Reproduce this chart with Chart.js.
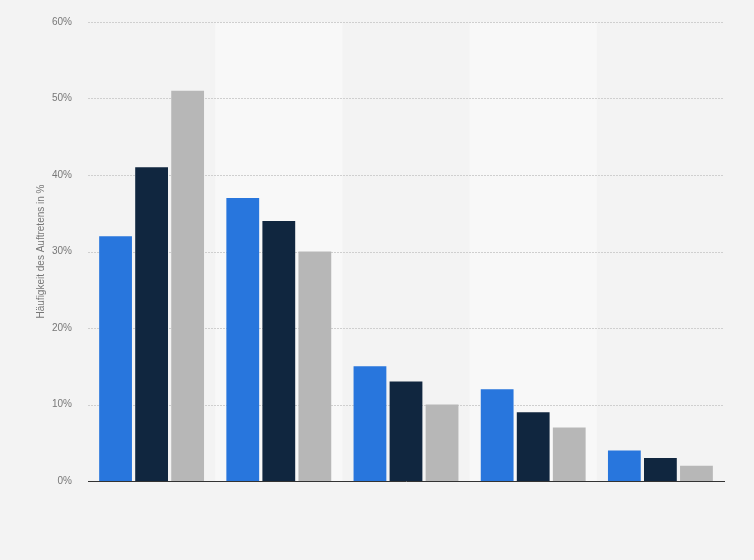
<!DOCTYPE html>
<html>
<head>
<meta charset="utf-8">
<script src="https://cdn.jsdelivr.net/npm/chart.js@4"></script>
<style>
  html, body { margin: 0; padding: 0; background: #f3f3f3; }
  #wrap { width: 754px; height: 560px; }
</style>
</head>
<body>
<div id="wrap"><canvas id="chart" width="754" height="560"></canvas></div>
<script>
// Kategorien (keine Beschriftung sichtbar)
const categories = ['', '', '', '', ''];
const seriesA = [32, 37, 15, 12, 4];
const seriesB = [41, 34, 13, 9, 3];
const seriesC = [51, 30, 10, 7, 2];
const yTicks = [0, 10, 20, 30, 40, 50, 60];

// lighter background bands behind every second category
const bandPlugin = {
    id: 'bands',
    beforeDatasetsDraw(chart) {
        const { ctx, chartArea, scales } = chart;
        const x = scales.x;
        const step = chartArea.width / categories.length;
        ctx.save();
        ctx.fillStyle = '#f8f8f8';
        categories.forEach((c, i) => {
            if (i % 2 === 1) {
                const cx = x.getPixelForValue(i);
                ctx.fillRect(cx - step / 2, chartArea.top, step, chartArea.bottom - chartArea.top);
            }
        });
        ctx.restore();
    }
};

// redraw grid above the bands
const gridOver = {
    id: 'gridOver',
    beforeDatasetsDraw(chart) {
        const { ctx, chartArea, scales } = chart;
        ctx.save();
        ctx.strokeStyle = '#cfcfcf';
        ctx.lineWidth = 1;
        ctx.setLineDash([2, 1]);
        yTicks.forEach(v => {
            if (v === 0) return;
            const y = Math.round(scales.y.getPixelForValue(v)) + 0.5;
            ctx.beginPath();
            ctx.moveTo(chartArea.left, y);
            ctx.lineTo(chartArea.right, y);
            ctx.stroke();
        });
        ctx.restore();
    }
};

Chart.defaults.font.family = '"Liberation Sans", Arial, sans-serif';
Chart.defaults.color = '#666666';

new Chart(document.getElementById('chart').getContext('2d'), {
    type: 'bar',
    data: {
        labels: categories,
        datasets: [
            { data: seriesA, backgroundColor: '#2876dd' },
            { data: seriesB, backgroundColor: '#10263f' },
            { data: seriesC, backgroundColor: '#b7b7b7' }
        ]
    },
    options: {
        responsive: false,
        animation: false,
        events: [],
        categoryPercentage: 0.85,
        barPercentage: 0.91,
        layout: { padding: { left: 30, right: 30, top: 18, bottom: 79 } },
        plugins: { legend: { display: false }, tooltip: { enabled: false } },
        scales: {
            x: {
                grid: { display: false },
                ticks: { display: false },
                border: { display: true, color: '#333333', width: 1 },
                afterFit(scale) { scale.height = 0; }
            },
            y: {
                min: 0,
                max: 60,
                afterBuildTicks(scale) { scale.ticks = yTicks.map(v => ({ value: v })); },
                afterFit(scale) { scale.width = 58; },
                grid: { display: false, drawTicks: false },
                border: { display: false },
                ticks: {
                    padding: 16,
                    font: { size: 10 },
                    color: '#777777',
                    callback: v => v + '%'
                },
                title: {
                    display: true,
                    text: 'Häufigkeit des Auftretens in %',
                    font: { size: 10 },
                    color: '#777777',
                    padding: { top: 5, bottom: 0 }
                }
            }
        }
    },
    plugins: [bandPlugin, gridOver]
});
</script>
</body>
</html>
